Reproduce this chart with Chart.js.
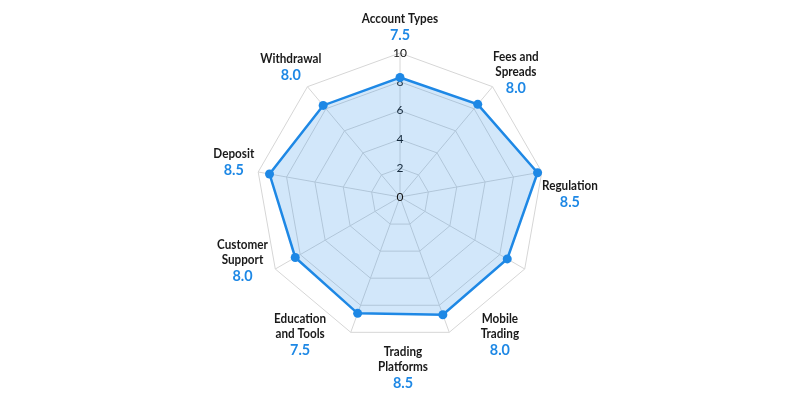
<!DOCTYPE html>
<html>
<head>
<meta charset="utf-8">
<script src="https://cdn.jsdelivr.net/npm/chart.js@4"></script>
<style>
  html, body { margin: 0; padding: 0; background: #fff; }
  #wrap { width: 800px; height: 400px; }
</style>
</head>
<body>
<div id="wrap"><canvas id="radar-chart"></canvas></div>
<script>
const categories = [
    ['Account Types'], ['Fees and', 'Spreads'], ['Regulation'], ['Mobile', 'Trading'],
    ['Trading', 'Platforms'], ['Education', 'and Tools'], ['Customer', 'Support'], ['Deposit'], ['Withdrawal']
];
const scores = ['7.5', '8.0', '8.5', '8.0', '8.5', '7.5', '8.0', '8.5', '8.0'];
// where the dots sit on the 0-10 scale
const plotted = [8.3, 8.4, 9.7, 8.6, 8.7, 8.6, 8.4, 9.2, 8.3];
const tickValues = [0, 2, 4, 6, 8, 10];

const blue = '#1e88e5';
// the outer labels in the reference are turned a little clockwise (degrees)
const labelTurn = [0, 3, 9, 24, 19, 16, 8, 2, 0];

// narrow text a bit, the reference type is condensed
function drawText(ctx, txt, x, y) {
    ctx.save();
    ctx.translate(x, y);
    ctx.scale(0.9, 1);
    ctx.fillText(txt, 0, 0);
    ctx.restore();
}

const axisLabels = {
    id: 'axisLabels',
    afterDraw(chart) {
        const scale = chart.scales.r;
        const ctx = chart.ctx;
        ctx.save();
        ctx.textAlign = 'center';
        ctx.textBaseline = 'middle';

        // zero tick, chart.js skips it
        ctx.font = '12px Lato';
        ctx.fillStyle = '#111';
        ctx.fillText(String(tickValues[0]), scale.xCenter, scale.yCenter);

        const dist = scale.drawingArea * 1.18;
        categories.forEach((lines, i) => {
            const a = scale.getIndexAngle(i) - Math.PI / 2 + labelTurn[i] * Math.PI / 180;
            const px = scale.xCenter + Math.cos(a) * dist;
            const py = scale.yCenter + Math.sin(a) * dist;
            let y = py - ((lines.length - 1) * 15 + 16) / 2;
            ctx.font = 'bold 13px Lato';
            ctx.fillStyle = '#1a1a1a';
            lines.forEach((l, k) => {
                drawText(ctx, l, px, y + k * 15);
            });
            ctx.font = 'bold 16px Lato';
            ctx.fillStyle = blue;
            drawText(ctx, scores[i], px, y + (lines.length - 1) * 15 + 16);
        });
        ctx.restore();
    }
};

new Chart(document.getElementById('radar-chart'), {
    type: 'radar',
    data: {
        labels: categories.map(c => c.join(' ')),
        datasets: [{
            data: plotted,
            borderColor: blue,
            backgroundColor: 'rgba(30, 136, 229, 0.2)',
            borderWidth: 2.5,
            pointRadius: 4.5,
            pointBackgroundColor: blue,
            pointBorderWidth: 0,
            fill: true
        }]
    },
    options: {
        responsive: true,
        maintainAspectRatio: false,
        animation: false,
        layout: { padding: { top: 45, bottom: 50 } },
        plugins: {
            legend: { display: false },
            tooltip: { enabled: false }
        },
        scales: {
            r: {
                min: 0,
                max: 10,
                ticks: {
                    stepSize: 2,
                    showLabelBackdrop: false,
                    color: '#111',
                    font: { family: 'Lato', size: 12 }
                },
                grid: { color: '#d6d6d6' },
                angleLines: { color: '#d6d6d6' },
                pointLabels: { display: false }
            }
        }
    },
    plugins: [axisLabels]
});
</script>
</body>
</html>
